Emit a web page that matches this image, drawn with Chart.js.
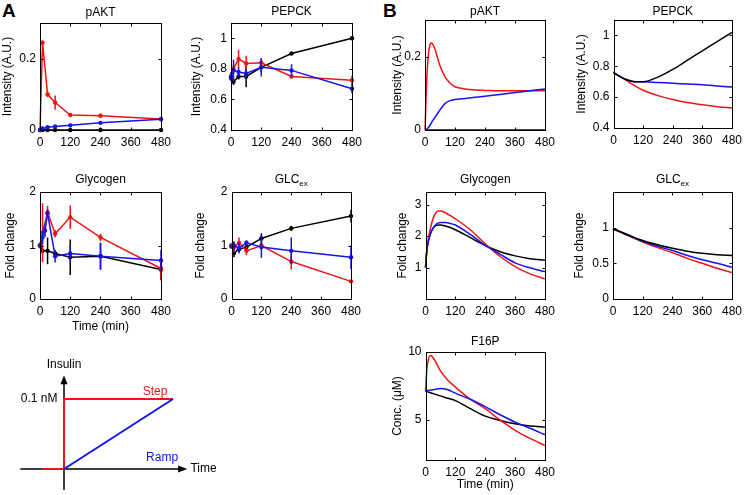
<!DOCTYPE html>
<html>
<head>
<meta charset="utf-8">
<script src="https://cdn.jsdelivr.net/npm/chart.js@4.4.0/dist/chart.umd.min.js"></script>
<style>
  body { margin: 0; background: #fff; }
  #fig { position: relative; width: 744px; height: 495px; overflow: hidden; font-family: "Liberation Sans", Arial, sans-serif; }
  #fig canvas { position: absolute; }
  .lbl { position: absolute; font-weight: bold; font-size: 19px; line-height: normal; }
</style>
</head>
<body>
<div id="fig">
  <div class="lbl" style="left:2px;top:0px">A</div>
  <div class="lbl" style="left:383px;top:0px">B</div>
</div>
<script>
// ---- A: experiments (mean, error) ----
const tExp = [0, 10, 30, 60, 120, 240, 480];
const tExpGlyRamp = [0, 10, 20, 30, 60, 120, 240, 480];
const xTicks = [0, 120, 240, 360, 480];

const expAktStep = [0, 0.245, 0.1, 0.077, 0.042, 0.04, 0.031];
const errAktStep = [0, 0.006, 0.008, 0.02, 0.005, 0.006, 0.003];
const expAktRamp = [0, 0.004, 0.008, 0.01, 0.013, 0.02, 0.03];
const errAktRamp = [0, 0.002, 0.002, 0.002, 0.002, 0.003, 0.003];
const expAktCtrl = [0, 0, 0, 0, 0, 0, 0];

const expPepStep = [0.75, 0.8, 0.865, 0.835, 0.84, 0.75, 0.725];
const errPepStep = [0.02, 0.03, 0.06, 0.05, 0.03, 0.01, 0.03];
const expPepRamp = [0.75, 0.79, 0.78, 0.77, 0.81, 0.79, 0.67];
const errPepRamp = [0.03, 0.07, 0.03, 0.03, 0.06, 0.04, 0.03];
const expPepCtrl = [0.74, 0.715, 0.75, 0.75, 0.81, 0.9, 1.0];
const errPepCtrl = [0.02, 0.02, 0.02, 0.07, 0.03, 0.01, 0.01];

const expGlyStep = [1.0, 1.24, 1.62, 1.22, 1.53, 1.15, 0.57];
const errGlyStep = [0.05, 0.55, 0.12, 0.07, 0.22, 0.07, 0.2];
const expGlyRamp = [1.0, 1.15, 1.28, 1.6, 0.8, 0.85, 0.8, 0.72];
const errGlyRamp = [0.05, 0.12, 0.12, 0.08, 0.12, 0.15, 0.25, 0.2];
const expGlyCtrl = [1.0, 0.9, 0.9, 0.85, 0.78, 0.8, 0.55];
const errGlyCtrl = [0.03, 0.05, 0.25, 0.05, 0.33, 0.25, 0.2];

const expGlcStep = [1.0, 0.97, 1.05, 0.9, 1.0, 0.7, 0.33];
const errGlcStep = [0.03, 0.1, 0.1, 0.08, 0.05, 0.15, 0.02];
const expGlcRamp = [0.98, 1.0, 0.95, 1.05, 0.97, 0.9, 0.78];
const errGlcRamp = [0.03, 0.08, 0.1, 0.05, 0.2, 0.25, 0.22];
const expGlcCtrl = [1.0, 0.86, 0.93, 0.97, 1.13, 1.32, 1.55];
const errGlcCtrl = [0.03, 0.08, 0.05, 0.05, 0.1, 0.05, 0.12];

// ---- B: model simulations ----
const tSimAkt = [0, 5, 10, 15, 20, 25, 30, 40, 50, 60, 80, 100, 120, 160, 200, 240, 300, 360, 420, 480];
const simAktStep = [0, 0.1, 0.175, 0.215, 0.232, 0.237, 0.235, 0.22, 0.197, 0.175, 0.145, 0.128, 0.118, 0.112, 0.109, 0.108, 0.107, 0.107, 0.107, 0.107];
const simAktRamp = [0, 0.001, 0.004, 0.008, 0.013, 0.019, 0.025, 0.035, 0.045, 0.055, 0.072, 0.08, 0.083, 0.086, 0.089, 0.092, 0.097, 0.102, 0.107, 0.112];
const simAktCtrl = [0, 0, 0, 0, 0, 0, 0, 0, 0, 0, 0, 0, 0, 0, 0, 0, 0, 0, 0, 0];

const tSimPep = [0, 30, 60, 90, 120, 180, 240, 300, 360, 420, 480];
const simPepStep = [0.76, 0.73, 0.70, 0.67, 0.645, 0.61, 0.585, 0.565, 0.55, 0.538, 0.53];
const simPepRamp = [0.76, 0.73, 0.71, 0.70, 0.70, 0.695, 0.69, 0.685, 0.68, 0.673, 0.665];
const simPepCtrl = [0.76, 0.73, 0.71, 0.70, 0.70, 0.73, 0.78, 0.84, 0.9, 0.96, 1.02];

const tSimGly = [0, 5, 10, 20, 30, 40, 50, 60, 80, 100, 120, 180, 240, 300, 360, 420, 480];
const simGlyStep = [1.0, 1.55, 1.85, 2.25, 2.55, 2.72, 2.8, 2.8, 2.74, 2.65, 2.55, 2.2, 1.75, 1.35, 1.03, 0.8, 0.64];
const simGlyRamp = [1.0, 1.5, 1.8, 2.1, 2.25, 2.35, 2.41, 2.43, 2.43, 2.4, 2.35, 2.05, 1.7, 1.42, 1.15, 0.99, 0.87];
const simGlyCtrl = [1.0, 1.5, 1.78, 2.08, 2.24, 2.32, 2.35, 2.35, 2.32, 2.27, 2.2, 1.95, 1.7, 1.5, 1.37, 1.28, 1.23];

const tSimGlc = [0, 60, 120, 180, 240, 300, 360, 420, 480];
const simGlcStep = [0.985, 0.89, 0.8, 0.72, 0.65, 0.57, 0.5, 0.43, 0.37];
const simGlcRamp = [0.985, 0.895, 0.81, 0.74, 0.68, 0.61, 0.55, 0.5, 0.445];
const simGlcCtrl = [0.985, 0.9, 0.82, 0.76, 0.71, 0.67, 0.64, 0.62, 0.61];

const tSimF16 = [0, 5, 10, 20, 30, 40, 60, 90, 120, 180, 240, 300, 360, 420, 480];
const simF16Step = [7.1, 8.6, 9.3, 9.75, 9.6, 9.3, 8.6, 7.9, 7.4, 6.5, 5.8, 4.95, 4.2, 3.6, 3.07];
const simF16Ramp = [7.1, 7.12, 7.14, 7.17, 7.2, 7.24, 7.3, 7.2, 6.95, 6.5, 5.95, 5.35, 4.8, 4.35, 3.87];
const simF16Ctrl = [7.1, 7.07, 7.04, 6.98, 6.92, 6.86, 6.75, 6.57, 6.4, 5.8, 5.25, 4.93, 4.68, 4.52, 4.45];

// ---- insulin schematic ----
const stepX = [-0.2, 0, 0, 1];
const stepY = [0, 0, 1, 1];
const rampX = [0, 1];
const rampY = [0, 1];

const RED = 'rgb(240,20,20)';
const BLUE = 'rgb(20,20,235)';
const BLACK = '#000';

Chart.defaults.font.family = '"Liberation Sans", Arial, sans-serif';
Chart.defaults.font.size = 12;
Chart.defaults.color = '#000';

const fig = document.getElementById('fig');

// box + inward ticks, matlab style
const frame = {
  id: 'frame',
  afterDraw(chart) {
    const { ctx, chartArea: a, scales } = chart;
    if (!scales.x.options.display) return;
    ctx.save();
    ctx.strokeStyle = '#000';
    ctx.lineWidth = 1;
    const L = Math.round(a.left) + 0.5, T = Math.round(a.top) + 0.5;
    const R = Math.round(a.right) + 0.5, B = Math.round(a.bottom) + 0.5;
    ctx.strokeRect(L, T, R - L, B - T);
    ctx.beginPath();
    scales.x.ticks.forEach(t => {
      const px = Math.round(scales.x.getPixelForValue(t.value)) + 0.5;
      ctx.moveTo(px, B); ctx.lineTo(px, B - 3);
      ctx.moveTo(px, T); ctx.lineTo(px, T + 3);
    });
    scales.y.ticks.forEach(t => {
      const py = Math.round(scales.y.getPixelForValue(t.value)) + 0.5;
      ctx.moveTo(L, py); ctx.lineTo(L + 3, py);
      ctx.moveTo(R, py); ctx.lineTo(R - 3, py);
    });
    ctx.stroke();
    ctx.restore();
  }
};

const errorBars = {
  id: 'errorBars',
  afterDatasetsDraw(chart) {
    const { ctx, scales: { x, y } } = chart;
    chart.data.datasets.slice().reverse().forEach(ds => {
      if (!ds.errs) return;
      ctx.save();
      ctx.strokeStyle = ds.borderColor;
      ctx.lineWidth = 1.5;
      ds.data.forEach((pt, i) => {
        const e = ds.errs[i];
        if (!e) return;
        const px = x.getPixelForValue(pt.x);
        ctx.beginPath();
        ctx.moveTo(px, y.getPixelForValue(pt.y - e));
        ctx.lineTo(px, y.getPixelForValue(pt.y + e));
        ctx.stroke();
      });
      ctx.restore();
    });
  }
};

function titlePlugin(text, sub, yAbs, top) {
  return {
    id: 'panelTitle',
    afterDraw(chart) {
      const { ctx, chartArea: a } = chart;
      const cx = (a.left + a.right) / 2;
      const y = yAbs - top;
      ctx.save();
      ctx.fillStyle = '#000';
      ctx.textBaseline = 'middle';
      ctx.font = '12px "Liberation Sans", Arial, sans-serif';
      const w1 = ctx.measureText(text).width;
      let w2 = 0;
      if (sub) { ctx.font = '8px "Liberation Sans", Arial, sans-serif'; w2 = ctx.measureText(sub).width; }
      const x0 = cx - (w1 + w2) / 2;
      ctx.textAlign = 'left';
      ctx.font = '12px "Liberation Sans", Arial, sans-serif';
      ctx.fillText(text, x0, y);
      if (sub) {
        ctx.font = '8px "Liberation Sans", Arial, sans-serif';
        ctx.fillText(sub, x0 + w1, y + 4);
      }
      ctx.restore();
    }
  };
}

function series(x, y, color, errs) {
  return { x: x, y: y, color: color, errs: errs };
}

function makePanel(p) {
  const [bl, bt, br, bb] = p.box;
  const cl = Math.max(0, p.yTitleX - 8);
  const ct = p.titleY - 10;
  const cr = br + 14;
  const cb = p.xTitle ? p.xTitleY + 10 : bb + 22;
  const cv = document.createElement('canvas');
  cv.width = cr - cl;
  cv.height = cb - ct;
  cv.style.left = cl + 'px';
  cv.style.top = ct + 'px';
  fig.appendChild(cv);
  const yW = bl - cl;
  const xH = cb - bb;

  new Chart(cv, {
    type: 'line',
    data: {
      datasets: p.series.map(s => ({
        data: s.x.map((x, i) => ({ x: x, y: s.y[i] })),
        borderColor: s.color,
        backgroundColor: s.color,
        borderWidth: 1.5,
        pointRadius: p.markers ? 2.2 : 0,
        pointBorderWidth: 0,
        cubicInterpolationMode: p.markers ? 'default' : 'monotone',
        clip: false,
        errs: s.errs
      }))
    },
    options: {
      responsive: false,
      animation: false,
      events: [],
      layout: { padding: { left: 0, top: bt - ct, right: cr - br, bottom: 0 } },
      plugins: { legend: { display: false }, tooltip: { enabled: false } },
      scales: {
        x: {
          type: 'linear', min: 0, max: 480,
          afterBuildTicks: s => { s.ticks = xTicks.map(v => ({ value: v })); },
          afterFit: s => { s.height = xH; },
          grid: { display: false, drawTicks: false },
          border: { display: false },
          ticks: { padding: 5, autoSkip: false, maxRotation: 0, callback: v => String(v) },
          title: p.xTitle
            ? { display: true, text: p.xTitle, padding: { top: 0, bottom: cb - p.xTitleY - 7.2 } }
            : { display: false }
        },
        y: {
          type: 'linear', min: p.ymin, max: p.ymax,
          afterBuildTicks: s => { s.ticks = p.yticks.map(v => ({ value: v })); },
          afterFit: s => { s.width = yW; },
          grid: { display: false, drawTicks: false },
          border: { display: false },
          ticks: { padding: 4, autoSkip: false, callback: v => String(v) },
          title: { display: true, text: p.yTitle, padding: { top: p.yTitleX - cl - 7.2, bottom: 0 } }
        }
      }
    },
    plugins: [errorBars, frame, titlePlugin(p.title, p.sub, p.titleY, ct)]
  });
}

// A panels
makePanel({
  box: [40, 23, 162, 130], title: 'pAKT', titleY: 13, yTitle: 'Intensity (A.U.)', yTitleX: 7.5,
  ymin: 0, ymax: 0.3, yticks: [0, 0.2], markers: true,
  series: [series(tExp, expAktRamp, BLUE, errAktRamp), series(tExp, expAktStep, RED, errAktStep), series(tExp, expAktCtrl, BLACK)]
});
makePanel({
  box: [231, 23, 353, 130], title: 'PEPCK', titleY: 12, yTitle: 'Intensity (A.U.)', yTitleX: 197,
  ymin: 0.4, ymax: 1.1, yticks: [0.4, 0.6, 0.8, 1], markers: true,
  series: [series(tExp, expPepRamp, BLUE, errPepRamp), series(tExp, expPepStep, RED, errPepStep), series(tExp, expPepCtrl, BLACK, errPepCtrl)]
});
makePanel({
  box: [40, 192, 162, 299], title: 'Glycogen', titleY: 180, yTitle: 'Fold change', yTitleX: 11,
  xTitle: 'Time (min)', xTitleY: 327,
  ymin: 0, ymax: 2, yticks: [0, 1, 2], markers: true,
  series: [series(tExpGlyRamp, expGlyRamp, BLUE, errGlyRamp), series(tExp, expGlyStep, RED, errGlyStep), series(tExp, expGlyCtrl, BLACK, errGlyCtrl)]
});
makePanel({
  box: [231, 192, 352, 299], title: 'GLC', sub: 'ex', titleY: 180, yTitle: 'Fold change', yTitleX: 200.5,
  ymin: 0, ymax: 2, yticks: [0, 1, 2], markers: true,
  series: [series(tExp, expGlcRamp, BLUE, errGlcRamp), series(tExp, expGlcStep, RED, errGlcStep), series(tExp, expGlcCtrl, BLACK, errGlcCtrl)]
});

// B panels
makePanel({
  box: [425, 20, 546, 130], title: 'pAKT', titleY: 12, yTitle: 'Intensity (A.U.)', yTitleX: 398,
  ymin: 0, ymax: 0.3, yticks: [0, 0.2],
  series: [series(tSimAkt, simAktRamp, BLUE), series(tSimAkt, simAktStep, RED), series(tSimAkt, simAktCtrl, BLACK)]
});
makePanel({
  box: [613, 20, 733, 128], title: 'PEPCK', titleY: 12, yTitle: 'Intensity (A.U.)', yTitleX: 581.5,
  ymin: 0.4, ymax: 1.1, yticks: [0.4, 0.6, 0.8, 1],
  series: [series(tSimPep, simPepCtrl, BLACK), series(tSimPep, simPepRamp, BLUE), series(tSimPep, simPepStep, RED)]
});
makePanel({
  box: [425, 192, 546, 299], title: 'Glycogen', titleY: 180, yTitle: 'Fold change', yTitleX: 402.5,
  ymin: 0, ymax: 3.4, yticks: [1, 2, 3],
  series: [series(tSimGly, simGlyRamp, BLUE), series(tSimGly, simGlyStep, RED), series(tSimGly, simGlyCtrl, BLACK)]
});
makePanel({
  box: [613, 192, 733, 299], title: 'GLC', sub: 'ex', titleY: 180, yTitle: 'Fold change', yTitleX: 580,
  ymin: 0, ymax: 1.5, yticks: [0, 0.5, 1],
  series: [series(tSimGlc, simGlcCtrl, BLACK), series(tSimGlc, simGlcRamp, BLUE), series(tSimGlc, simGlcStep, RED)]
});
makePanel({
  box: [425, 352, 546, 460], title: 'F16P', titleY: 342, yTitle: 'Conc. (\u03bcM)', yTitleX: 397.5,
  xTitle: 'Time (min)', xTitleY: 485,
  ymin: 2, ymax: 10, yticks: [5, 10],
  series: [series(tSimF16, simF16Ramp, BLUE), series(tSimF16, simF16Step, RED), series(tSimF16, simF16Ctrl, BLACK)]
});

// insulin input schematic
(function () {
  const cv = document.createElement('canvas');
  cv.width = 240; cv.height = 145;
  cv.style.left = '0px'; cv.style.top = '350px';
  fig.appendChild(cv);
  const axes = {
    id: 'schemAxes',
    beforeDatasetsDraw(chart) {
      const { ctx, scales: { x, y } } = chart;
      const x0 = x.getPixelForValue(0), y0 = y.getPixelForValue(0);
      const yTop = y.getPixelForValue(1.34), yBot = y.getPixelForValue(-0.3);
      const xL = x.getPixelForValue(-0.4), xR = x.getPixelForValue(1.13);
      ctx.save();
      ctx.strokeStyle = '#000'; ctx.fillStyle = '#000'; ctx.lineWidth = 1.5;
      ctx.beginPath();
      ctx.moveTo(x0, yBot); ctx.lineTo(x0, yTop + 6);
      ctx.moveTo(xL, y0); ctx.lineTo(xR - 6, y0);
      ctx.stroke();
      ctx.beginPath();
      ctx.moveTo(x0, yTop); ctx.lineTo(x0 - 3.5, yTop + 9); ctx.lineTo(x0 + 3.5, yTop + 9); ctx.closePath();
      ctx.moveTo(xR, y0); ctx.lineTo(xR - 9, y0 - 3.5); ctx.lineTo(xR - 9, y0 + 3.5); ctx.closePath();
      ctx.fill();
      ctx.restore();
    },
    afterDraw(chart) {
      const { ctx, scales: { x, y } } = chart;
      ctx.save();
      ctx.font = '12px "Liberation Sans", Arial, sans-serif';
      ctx.textBaseline = 'middle';
      ctx.fillStyle = '#000';
      ctx.textAlign = 'center';
      ctx.fillText('Insulin', x.getPixelForValue(0), y.getPixelForValue(1.49));
      ctx.textAlign = 'right';
      ctx.fillText('0.1 nM', x.getPixelForValue(-0.06), y.getPixelForValue(1));
      ctx.textAlign = 'left';
      ctx.fillText('Time', x.getPixelForValue(1.16), y.getPixelForValue(0));
      ctx.textAlign = 'center';
      ctx.fillStyle = RED;
      ctx.fillText('Step', x.getPixelForValue(0.835), y.getPixelForValue(1.11));
      ctx.fillStyle = BLUE;
      ctx.fillText('Ramp', x.getPixelForValue(0.9), y.getPixelForValue(0.16));
      ctx.restore();
    }
  };
  new Chart(cv, {
    type: 'scatter',
    data: {
      datasets: [
        { data: rampX.map((v, i) => ({ x: v, y: rampY[i] })), borderColor: BLUE, borderWidth: 2, showLine: true, pointRadius: 0, clip: false },
        { data: stepX.map((v, i) => ({ x: v, y: stepY[i] })), borderColor: RED, borderWidth: 2, showLine: true, pointRadius: 0, clip: false }
      ]
    },
    options: {
      responsive: false, animation: false, events: [],
      layout: { padding: 0 },
      plugins: { legend: { display: false }, tooltip: { enabled: false } },
      scales: {
        x: { type: 'linear', display: false, min: -64 / 109, max: (240 - 64) / 109 },
        y: { type: 'linear', display: false, min: -26 / 70, max: 119 / 70 }
      }
    },
    plugins: [axes]
  });
})();
</script>
</body>
</html>
